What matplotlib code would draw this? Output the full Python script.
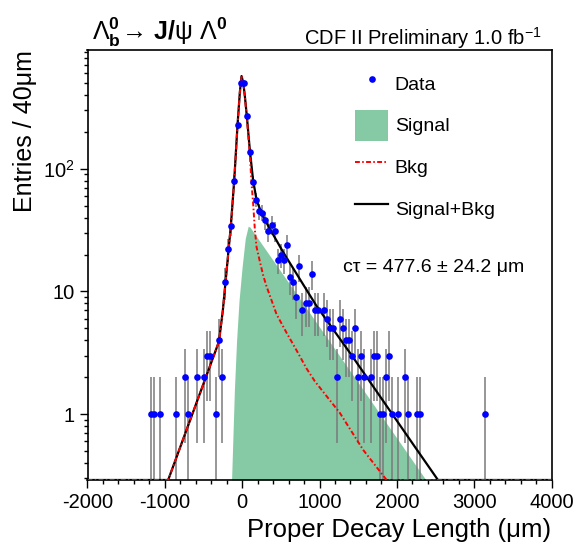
import numpy as np
import matplotlib
matplotlib.use('Agg')
import matplotlib.pyplot as plt
from matplotlib.lines import Line2D
from matplotlib.patches import Patch
from matplotlib.ticker import FixedLocator, FixedFormatter, MultipleLocator, LogLocator, NullFormatter

plt.rcParams['font.family'] = ['Liberation Sans', 'DejaVu Sans']
plt.rcParams['mathtext.fontset'] = 'custom'
plt.rcParams['mathtext.rm'] = 'Liberation Sans'
plt.rcParams['mathtext.bf'] = 'Liberation Sans:bold'
plt.rcParams['mathtext.it'] = 'Liberation Sans:italic'
plt.rcParams['axes.unicode_minus'] = False

# data: bin centres (um) and entries per 40 um
bin_x = [-1180, -1140, -1060, -860, -740, -700, -580, -500, -460, -420, -340, -300,
         -260, -220, -180, -140, -100, -60, -20, 20, 60, 100, 140, 180, 220, 260,
         300, 340, 380, 420, 460, 500, 540, 580, 620, 660, 700, 740, 780, 820, 860,
         900, 940, 980, 1060, 1100, 1140, 1180, 1220, 1260, 1300, 1340, 1380, 1420,
         1460, 1500, 1540, 1580, 1660, 1700, 1740, 1780, 1820, 1860, 1900, 1940,
         2020, 2100, 2140, 2260, 2300, 3140]
counts = [1, 1, 1, 1, 2, 1, 2, 2, 3, 3, 1, 4,
          2, 12, 22, 34, 80, 228, 505, 505, 267, 137, 78, 56, 45, 44,
          38, 31, 35, 31, 18, 20, 18, 24, 13, 12, 9, 16, 7, 8, 8,
          14, 7, 7, 7, 6, 5, 5, 2, 6, 5, 4, 4, 3,
          5, 2, 3, 2, 2, 3, 3, 1, 1, 2, 3, 1,
          1, 2, 1, 1, 1, 1]

# fit curves (values at the frame bottom are clipped)
tot_x = [-2000, -957, -300, -250, -200, -146, -103, -60, -30, -8, 15, 35, 60, 100,
         140, 186, 260, 358, 530, 746, 962, 1177, 1393, 2234, 2532, 4000]
tot_y = [0.29, 0.29, 3.9, 7.0, 15.0, 34.5, 80, 228, 420, 570, 500, 390, 270, 140,
         82, 55.5, 42, 32.4, 20.9, 12.6, 7.6, 4.9, 3.16, 0.54, 0.29, 0.29]

bkg_x = [-2000, -957, -300, -250, -200, -146, -103, -60, -30, -8, 15, 35, 60, 100,
         121, 142, 164, 186, 229, 272, 315, 445, 574, 704, 833, 940, 1264, 1565,
         1868, 4000]
bkg_y = [0.29, 0.29, 3.9, 7.0, 15.0, 34.5, 80, 228, 420, 570, 500, 385, 262, 128,
         76, 52, 32, 23, 17.5, 13.5, 11.0, 6.5, 4.6, 3.3, 2.35, 1.85, 1.02, 0.51,
         0.29, 0.29]

sig_x = [-137, -100, -72, -40, 0, 40, 78, 100, 2377]
sig_y = [0.29, 1.6, 4.0, 8.5, 16, 27, 34, 33.5, 0.29]

ymin, ymax = 0.29, 930

fig = plt.figure(figsize=(5.77, 5.49), dpi=100)
ax = fig.add_axes([87.5 / 577, 1 - 480 / 549, 464 / 577, 430 / 549])

green = '#86caa5'
ax.fill_between(sig_x, sig_y, ymin, color=green, lw=0, zorder=1)

cnt = np.array(counts, dtype=float)
err = np.sqrt(cnt)
ax.vlines(bin_x, np.maximum(cnt - err, 1e-3), cnt + err, colors='#7a7a7a', lw=1.1, zorder=2)

ax.plot(tot_x, tot_y, color='black', lw=1.6, zorder=3)
ax.plot(bkg_x, bkg_y, color='red', lw=1.4, ls=(0, (2.5, 1.2, 0.8, 1.2)), zorder=4)
ax.plot(bin_x, counts, ls='none', marker='o', ms=4.8, color='#0000ff', mec='none', zorder=5)

ax.set_yscale('log')
ax.set_xlim(-2000, 4000)
ax.set_ylim(ymin, ymax)

ax.xaxis.set_major_locator(MultipleLocator(1000))
ax.xaxis.set_minor_locator(MultipleLocator(200))
ax.yaxis.set_major_locator(FixedLocator([1, 10, 100]))
ax.yaxis.set_major_formatter(FixedFormatter(['1', '10', '$10^2$']))
ax.yaxis.set_minor_locator(LogLocator(subs=np.arange(2, 10)))
ax.yaxis.set_minor_formatter(NullFormatter())
ax.tick_params(which='major', direction='out', length=6, width=1, labelsize=14.5)
ax.tick_params(which='minor', direction='out', length=3, width=1)
for s in ax.spines.values():
    s.set_linewidth(1.2)

ax.set_xlabel('Proper Decay Length (μm)', fontsize=18.5, loc='right', labelpad=4)
ax.set_ylabel('Entries / 40μm', fontsize=18, loc='top', labelpad=4)

handles = [Line2D([], [], ls='none', marker='o', ms=4.8, color='#0000ff', mec='none'),
           Patch(facecolor=green, edgecolor='none'),
           Line2D([], [], color='red', lw=1.4, ls=(0, (2.5, 1.2, 0.8, 1.2))),
           Line2D([], [], color='black', lw=1.6)]
labels = ['Data', 'Signal', 'Bkg', 'Signal+Bkg']
ax.legend(handles, labels, loc='upper left', bbox_to_anchor=(0.5765, 0.958),
          borderaxespad=0, borderpad=0, frameon=False, fontsize=14,
          handlelength=1.7, handleheight=2.07, handletextpad=0.35,
          labelspacing=0.55, numpoints=1)

ax.text(0.55, 0.495, 'cτ = 477.6 ± 24.2 μm', transform=ax.transAxes,
        fontsize=14, va='center', ha='left')

fig.text(92 / 577, 1 - 40 / 549,
         r'$\Lambda^{\mathbf{0}}_{\mathbf{b}}\!\rightarrow\,\mathbf{J/}\mathrm{\psi}\ \Lambda^{\mathbf{0}}$',
         fontsize=18, va='baseline', ha='left')
fig.text(542 / 577, 1 - 45 / 549, r'CDF II Preliminary 1.0 fb$^{\mathregular{-1}}$',
         fontsize=14.5, va='baseline', ha='right')

fig.savefig('out.png', dpi=100)
